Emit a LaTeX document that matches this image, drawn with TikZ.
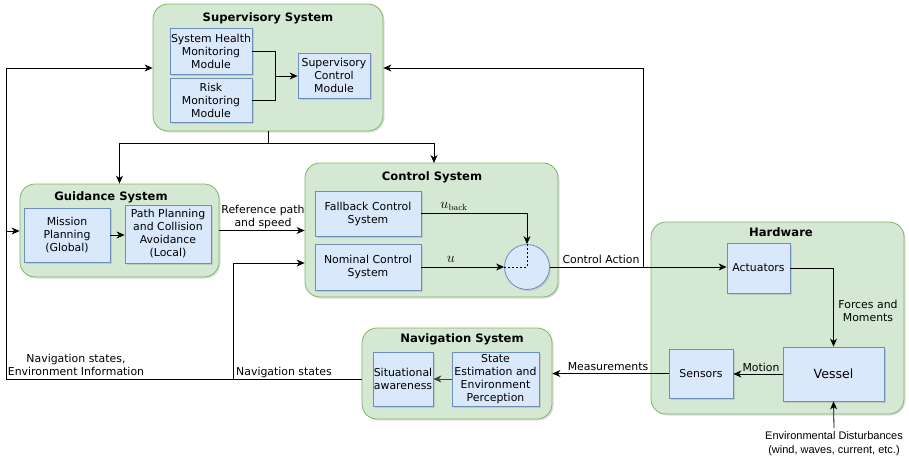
\documentclass[tikz,border=0pt]{standalone}
\usepackage[no-math]{fontspec}
\setmainfont{DejaVu Sans}
\newfontfamily\arialfont{Liberation Sans}
\usetikzlibrary{arrows.meta,shadows}

\definecolor{grpfill}{HTML}{D5E8D4}
\definecolor{grpline}{HTML}{82B366}
\definecolor{blkfill}{HTML}{DAE8FC}
\definecolor{blkline}{HTML}{6C8EBF}

\tikzset{
  softshadow/.style={drop shadow={opacity=0.25, shadow xshift=1.5pt, shadow yshift=-1.5pt}},
  group/.style={draw=grpline, fill=grpfill, rounded corners=15pt, line width=0.8pt, softshadow},
  grouptitle/.style={font=\fontsize{11.6}{13}\selectfont\bfseries},
  block/.style={draw=blkline, fill=blkfill, line width=0.8pt, align=center, inner sep=0pt,
                font=\fontsize{10.9}{13}\selectfont, softshadow},
  lbl/.style={align=center, inner sep=0pt, font=\fontsize{10.9}{13}\selectfont},
  conn/.style={line width=0.8pt, draw=black},
  arr/.style={conn, -{Stealth[length=8pt, width=7pt, inset=2.5pt]}},
}

\begin{document}
\begin{tikzpicture}[x=1pt, y=-1pt]
\useasboundingbox (0,0) rectangle (909,460);

% system groups
\node[group, minimum width=230, minimum height=127] (sup) at (268,67.5) {};
\node[group, minimum width=199, minimum height=93] (gui) at (119.5,230.5) {};
\node[group, minimum width=253, minimum height=134] (ctl) at (431.5,230) {};
\node[group, minimum width=253, minimum height=192] (hw) at (777.5,318) {};
\node[group, minimum width=190, minimum height=91] (nav) at (457,373.5) {};

\node[grouptitle] (supt) at (268,18.5) {Supervisory System};
\node[grouptitle] (guit) at (111,197) {Guidance System};
\node[grouptitle] (ctlt) at (432,177) {Control System};
\node[grouptitle] (hwt) at (781,232) {Hardware};
\node[grouptitle] (navt) at (462,339) {Navigation System};

% inner blocks
\node[block, minimum width=82, minimum height=46] (shm) at (211,51) {System Health\\Monitoring\\Module};
\node[block, minimum width=82, minimum height=44] (rmm) at (211,100) {Risk\\Monitoring\\Module};
\node[block, minimum width=72, minimum height=45] (scm) at (334,75.5) {Supervisory\\Control\\Module};

\node[block, minimum width=86, minimum height=54] (mp) at (67,235) {Mission\\Planning\\(Global)};
\node[block, minimum width=86, minimum height=58] (pp) at (168,234) {Path Planning\\and Collision\\Avoidance\\(Local)};

\node[block, minimum width=106, minimum height=45] (fb) at (368,213.5) {Fallback Control\\System};
\node[block, minimum width=106, minimum height=46] (nom) at (368,267) {Nominal Control\\System};
\node[block, shape=circle, minimum size=45] (sw) at (527,267) {};

\node[block, minimum width=63, minimum height=50] (act) at (758.5,268) {Actuators};
\node[block, minimum width=101, minimum height=54, font=\fontsize{12.6}{14}\selectfont] (ves) at (833.5,374) {Vessel};
\node[block, minimum width=64, minimum height=49] (sen) at (701,373.5) {Sensors};

\node[block, minimum width=60, minimum height=54] (sa) at (403,379) {Situational\\awareness};
\node[block, minimum width=87, minimum height=54] (se) at (495.5,379) {State\\Estimation and\\Environment\\Perception};

% supervisory internals
\coordinate (sj) at (275,76);
\draw[conn] (shm.east) -| (sj);
\draw[conn] (rmm.east) -| (sj);
\draw[arr] (sj) -- (scm.west |- sj);

% supervisory to guidance and control
\coordinate (sb) at (268,143);
\draw[conn] (sup.south) -- (sb);
\draw[arr] (sb) -| (gui.north);
\draw[arr] (sb) -| (434,163);

% guidance internals and output
\draw[arr] (mp.east |- 0,235) -- (pp.west |- 0,235);
\draw[arr] (gui.east) -- (ctl.west |- gui.east);
\node[lbl] (refl) at (263,216.5) {Reference path\\and speed};

% control internals
\draw[arr] (fb.east) -| (sw.north);
\draw[arr] (nom.east) -- (sw.west);
\node[lbl, font=\fontsize{13.5}{14}\selectfont] (ubl) at (454,206) {$u_{\mathrm{back}}$};
\node[lbl, font=\fontsize{13.5}{14}\selectfont] (ul) at (451,259) {$u$};
\draw[line width=0.6pt, dashed, dash pattern=on 2pt off 2pt] (sw.west) -- (sw.center) -- (sw.north);

% control action and feedback to supervisory
\coordinate (ca) at (643,267);
\draw[arr] (sw.east) -- (act.west |- sw.east);
\node[lbl] (cal) at (601,259) {Control Action};
\draw[arr] (ca) -- (643,68) -- (sup.east |- 0,68);

% hardware internals
\draw[arr] (act.east) -| (ves.north);
\node[lbl] (fml) at (868,311) {Forces and\\Moments};
\draw[arr] (ves.west) -- (sen.east |- ves.west);
\node[lbl] (motl) at (761,367) {Motion};
\draw[arr] (sen.west) -- (nav.east |- sen.west);
\node[lbl] (measl) at (608,367) {Measurements};

% environmental disturbances
\coordinate (env) at (834,428);
\draw[arr] (env) -- (ves.south);
\node[align=center, inner sep=0pt, font=\arialfont\fontsize{11}{14}\selectfont] (envl) at (834,444)
  {Environmental Disturbances\\(wind, waves, current, etc.)};

% navigation internals and outputs
\draw[arr, draw=black!75] (se.west) -- (sa.east);
\coordinate (nl) at (6,379);
\coordinate (nm) at (233,379);
\draw[conn] (nav.west |- sa.west) -- (nl);
\draw[arr] (nl) -- (6,68) -- (sup.west |- 0,68);
\draw[arr] (6,231) -- (gui.west |- 0,231);
\draw[arr] (nm) -- (233,263) -- (ctl.west |- 0,263);
\node[lbl] (nsl) at (284,372) {Navigation states};
\node[lbl] (nel) at (76,365) {Navigation states,\\Environment Information};
\end{tikzpicture}
\end{document}
